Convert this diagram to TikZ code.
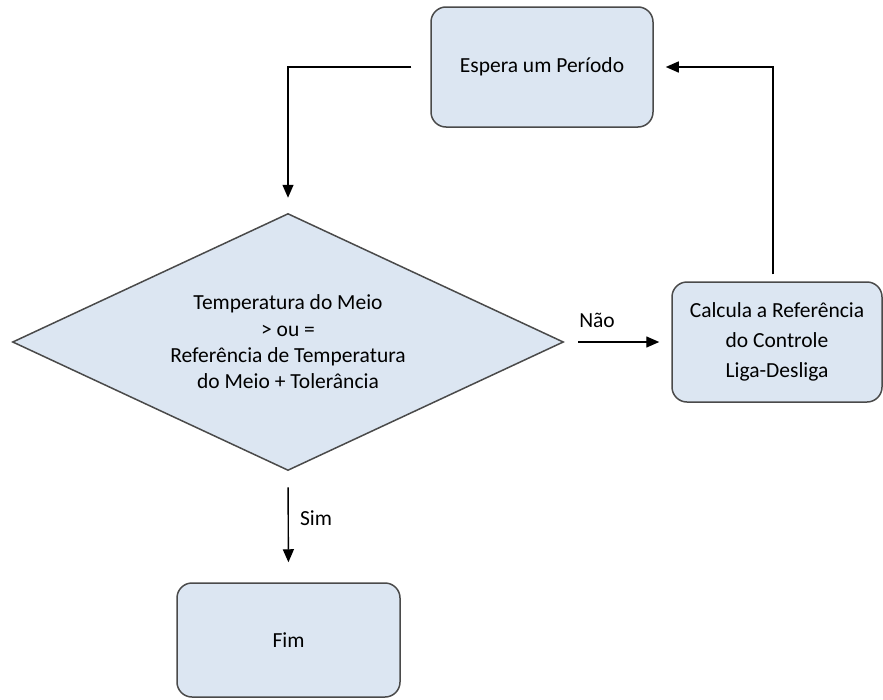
\documentclass[tikz,border=0pt]{standalone}
\usepackage{fontspec}
\setmainfont{Carlito}
\usetikzlibrary{shapes.geometric,arrows.meta}
\definecolor{boxfill}{HTML}{DCE6F2}
\definecolor{boxline}{HTML}{4A4A4A}
\begin{document}
\begin{tikzpicture}[x=1pt,y=-1pt,
  every node/.style={font=\fontsize{21.5}{26.3}\selectfont, inner sep=0pt},
  procbox/.style={rectangle, rounded corners=15pt, draw=boxline, fill=boxfill,
    line width=1.5pt, align=center},
  decision/.style={diamond, draw=boxline, fill=boxfill, line width=1.5pt,
    align=center, aspect=2.14},
  flow/.style={draw=black, line width=1.4pt, -{Triangle[length=13pt,width=11pt]}},
  lbl/.style={font=\fontsize{21.5}{26}\selectfont}
]
\useasboundingbox (0,0) rectangle (883,699);

% process steps and decision
\node[procbox, minimum width=222pt, minimum height=120pt] (wait) at (542,67)
  {Espera um Período};
\node[decision, minimum width=551pt, minimum height=257pt] (test) at (288,342)
  {Temperatura do Meio\\ > ou =\\ Referência de Temperatura\\ do Meio + Tolerância};
\node[procbox, minimum width=210pt, minimum height=120pt,
  font=\fontsize{21.5}{30}\selectfont] (calc) at (777,342)
  {Calcula a Referência\\ do Controle\\ Liga-Desliga};
\node[procbox, minimum width=223pt, minimum height=114pt] (fim) at (288.5,640) {Fim};

% connectors
\draw[flow, shorten <=19pt, shorten >=15pt] (wait.west) -| (test.north);
\draw[flow, shorten <=14pt, shorten >=12pt] (test.east) -- (calc.west);
\draw[flow, shorten <=7pt, shorten >=12pt] ([xshift=-4pt]calc.north) |- (wait.east);
\draw[flow, shorten <=16pt, shorten >=20pt] (test.south) -- (fim.north);

% branch labels
\node[lbl] (nao) at (597,320) {Não};
\node[lbl] (sim) at (316,518) {Sim};
\end{tikzpicture}
\end{document}
